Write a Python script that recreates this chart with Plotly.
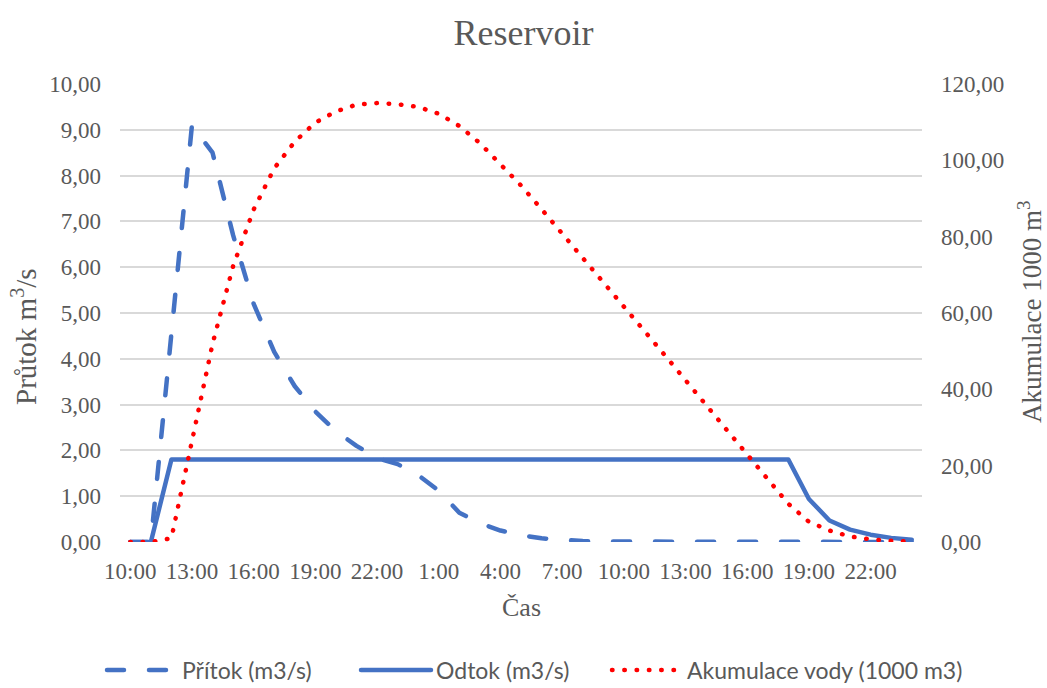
import plotly.graph_objects as go

times = ["10:00", "11:00", "12:00", "13:00", "14:00", "15:00", "16:00", "17:00", "18:00",
         "19:00", "20:00", "21:00", "22:00", "23:00", "0:00", "1:00", "2:00", "3:00", "4:00",
         "5:00", "6:00", "7:00", "8:00", "9:00", "10:00", "11:00", "12:00", "13:00", "14:00",
         "15:00", "16:00", "17:00", "18:00", "19:00", "20:00", "21:00", "22:00", "23:00", "0:00"]

inflow = [0, 0, 4.55, 9.1, 8.5, 6.7, 5.2, 4.15, 3.4, 2.85, 2.42, 2.1, 1.83, 1.7, 1.46, 1.12,
          0.64, 0.41, 0.25, 0.15, 0.08, 0.04, 0.02, 0.01, 0.01, 0, 0, 0, 0, 0, 0, 0, 0, 0,
          0, 0, 0, 0, 0]

outflow = [0, 0, 1.8, 1.8, 1.8, 1.8, 1.8, 1.8, 1.8, 1.8, 1.8, 1.8, 1.8, 1.8, 1.8, 1.8, 1.8,
           1.8, 1.8, 1.8, 1.8, 1.8, 1.8, 1.8, 1.8, 1.8, 1.8, 1.8, 1.8, 1.8, 1.8, 1.8, 1.8,
           0.94, 0.47, 0.27, 0.16, 0.09, 0.05]

storage = [0, 0, 1.0, 26.4, 51.9, 72.3, 87.1, 97.9, 104.9, 109.9, 112.8, 114.6, 115.0, 114.7,
           114.0, 112.2, 109.0, 104.5, 98.8, 93.4, 87.2, 80.9, 74.5, 68.2, 61.9, 55.3, 48.9,
           42.2, 35.9, 29.4, 23.0, 16.4, 10.0, 5.3, 3.0, 1.45, 0.7, 0.3, 0.15]

tick_step = 3
idx = list(range(len(times)))
tickvals = idx[::tick_step]
ticktext = times[::tick_step]

BLUE = "#4472C4"
RED = "#FF0000"
GREY = "#595959"
SERIF = "Liberation Serif"

fig = go.Figure()
fig.add_trace(go.Scatter(x=idx, y=inflow, name="Přítok (m3/s)", mode="lines", legend="legend",
                         line=dict(color=BLUE, width=4.5, dash="17px,25px")))
fig.add_trace(go.Scatter(x=idx, y=outflow, name="Odtok (m3/s)", mode="lines", legend="legend2",
                         line=dict(color=BLUE, width=4.5)))
fig.add_trace(go.Scatter(x=idx, y=storage, name="Akumulace vody (1000 m3)", mode="lines",
                         yaxis="y2", legend="legend3",
                         line=dict(color=RED, width=4.5, dash="0.5px,11.8px")))

PW = 802
PH = 458
leg_y = -(670 - 542) / PH


def leg(px):
    return dict(orientation="h", x=(px - 120) / PW, xanchor="left", y=leg_y,
                yanchor="middle", itemwidth=70, bgcolor="rgba(0,0,0,0)",
                font=dict(family="Lato", size=23, color=GREY))


fig.update_layout(
    width=1047, height=688,
    margin=dict(l=120, r=125, t=84, b=146, autoexpand=False),
    paper_bgcolor="white", plot_bgcolor="white",
    separators=", ",
    showlegend=True,
    title=dict(text="Reservoir", x=0.5, xanchor="center", y=1 - 32 / 688, yanchor="middle",
               font=dict(family=SERIF, size=36, color=GREY)),
    xaxis=dict(range=[-0.5, len(times) - 0.5], tickmode="array", tickvals=tickvals,
               ticktext=ticktext, showgrid=False, zeroline=False, showline=False,
               ticks="", ticklabelstandoff=13,
               tickfont=dict(family=SERIF, size=23, color=GREY)),
    yaxis=dict(range=[0, 10], dtick=1, tickformat=".2f", showgrid=True, gridcolor="#d9d9d9",
               gridwidth=1.5, zeroline=False, showline=False, ticks="",
               ticklabelstandoff=18, tickfont=dict(family=SERIF, size=23, color=GREY)),
    yaxis2=dict(range=[0, 120], dtick=20, tickformat=".2f", overlaying="y", side="right",
                showgrid=False, zeroline=False, showline=False, ticks="",
                ticklabelstandoff=18, tickfont=dict(family=SERIF, size=23, color=GREY)),
    legend=leg(102),
    legend2=leg(356),
    legend3=leg(607),
    annotations=[
        dict(text="Průtok m<sup>3</sup>/s", xref="paper", yref="paper", x=-(120 - 24) / PW,
             y=(542 - 337) / PH, showarrow=False, textangle=-90, xanchor="center",
             yanchor="middle", font=dict(family=SERIF, size=29, color=GREY)),
        dict(text="Akumulace 1000 m<sup>3</sup>", xref="paper", yref="paper",
             x=1 + (1030 - 922) / PW, y=(542 - 312) / PH, showarrow=False, textangle=-90,
             xanchor="center", yanchor="middle", font=dict(family=SERIF, size=27, color=GREY)),
        dict(text="Čas", xref="paper", yref="paper", x=(521 - 120) / PW,
             y=-(607 - 542) / PH, showarrow=False, xanchor="center", yanchor="middle",
             font=dict(family=SERIF, size=26, color=GREY)),
    ],
)

post = """
var s = document.createElement('style');
s.textContent = '.js-line{stroke-linecap:round !important;stroke-linejoin:round !important}';
document.head.appendChild(s);
"""
fig.write_html("out.html", post_script=post)
